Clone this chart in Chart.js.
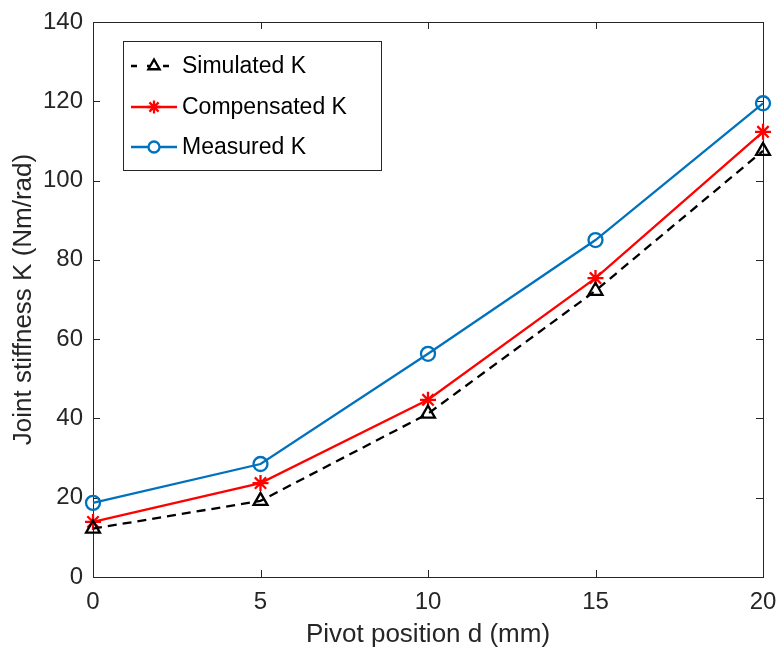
<!DOCTYPE html>
<html>
<head>
<meta charset="utf-8">
<script src="https://cdn.jsdelivr.net/npm/chart.js@4"></script>
<style>
  html, body { margin: 0; padding: 0; background: #fff; }
  #wrap { width: 779px; height: 650px; }
</style>
</head>
<body>
<div id="wrap"><canvas id="stiffChart" width="779" height="650"></canvas></div>
<script>
// pivot position d (mm)
var pivotPos = [0, 5, 10, 15, 20];
// joint stiffness K (Nm/rad)
var simulatedK = [12.2, 19.2, 41.2, 72.2, 107.5];
var compensatedK = [13.9, 23.7, 44.7, 75.4, 112.3];
var measuredK = [18.7, 28.5, 56.3, 85.0, 119.5];
var xTicks = [0, 5, 10, 15, 20];
var yTicks = [0, 20, 40, 60, 80, 100, 120, 140];

var AXIS = '#262626';
var FONT = '"Liberation Sans", Arial, Helvetica, sans-serif';

function pts(vals) {
  return pivotPos.map(function (d, i) { return { x: d, y: vals[i] }; });
}

var series = [
  { label: 'Simulated K', data: simulatedK, color: '#000000', style: 'triangle', radius: 8, dash: [9, 6] },
  { label: 'Compensated K', data: compensatedK, color: '#FF0000', style: 'star', radius: 8, dash: [] },
  { label: 'Measured K', data: measuredK, color: '#0072BD', style: 'circle', radius: 7, dash: [] }
];

// MATLAB-like box with inward ticks, plus boxed legend
var boxPlugin = {
  id: 'boxAxes',
  beforeDatasetsDraw: function (chart) {
    var ctx = chart.ctx, a = chart.chartArea;
    var xs = chart.scales.x, ys = chart.scales.y;
    ctx.save();
    ctx.strokeStyle = AXIS;
    ctx.lineWidth = 1;
    ctx.strokeRect(Math.round(a.left) + 0.5, Math.round(a.top) + 0.5,
      Math.round(a.right - a.left), Math.round(a.bottom - a.top));
    ctx.beginPath();
    var tl = 7;
    xTicks.forEach(function (v) {
      var px = Math.round(xs.getPixelForValue(v)) + 0.5;
      ctx.moveTo(px, a.bottom); ctx.lineTo(px, a.bottom - tl);
      ctx.moveTo(px, a.top); ctx.lineTo(px, a.top + tl);
    });
    yTicks.forEach(function (v) {
      var py = Math.round(ys.getPixelForValue(v)) + 0.5;
      ctx.moveTo(a.left, py); ctx.lineTo(a.left + tl, py);
      ctx.moveTo(a.right, py); ctx.lineTo(a.right - tl, py);
    });
    ctx.stroke();
    ctx.restore();
  },
  afterDraw: function (chart) {
    var ctx = chart.ctx;
    var bx = 123, by = 41, bw = 258, bh = 129;
    ctx.save();
    ctx.fillStyle = '#ffffff';
    ctx.fillRect(bx, by, bw, bh);
    ctx.strokeStyle = '#262626';
    ctx.lineWidth = 1;
    ctx.strokeRect(bx + 0.5, by + 0.5, bw, bh);
    var rows = [66, 107, 147];
    series.forEach(function (s, i) {
      var y = rows[i];
      ctx.strokeStyle = s.color;
      ctx.lineWidth = 2.3;
      ctx.setLineDash(s.dash.length ? [6, 10] : []);
      ctx.beginPath();
      ctx.moveTo(131, y); ctx.lineTo(177, y);
      ctx.stroke();
      ctx.setLineDash([]);
      ctx.fillStyle = '#ffffff';
      Chart.helpers.drawPoint(ctx, {
        pointStyle: s.style, radius: s.radius - 1.5, borderWidth: 2.3
      }, 154, y);
      ctx.fillStyle = '#000';
      ctx.font = '23px ' + FONT;
      ctx.textBaseline = 'middle';
      ctx.textAlign = 'left';
      ctx.fillText(s.label, 182, y + 1);
    });
    ctx.restore();
  }
};

new Chart(document.getElementById('stiffChart'), {
  type: 'line',
  data: {
    datasets: series.map(function (s) {
      return {
        label: s.label,
        data: pts(s.data),
        borderColor: s.color,
        backgroundColor: '#ffffff',
        borderWidth: 2.3,
        borderDash: s.dash,
        pointStyle: s.style,
        pointRadius: s.radius,
        pointBorderWidth: 2.3,
        pointBackgroundColor: 'rgba(255,255,255,0)',
        pointBorderColor: s.color,
        tension: 0,
        clip: false
      };
    })
  },
  options: {
    responsive: false,
    animation: false,
    layout: { padding: { top: 22, right: 16, left: 0, bottom: 0 } },
    plugins: { legend: { display: false }, tooltip: { enabled: false } },
    scales: {
      x: {
        type: 'linear',
        min: 0, max: 20,
        afterBuildTicks: function (sc) { sc.ticks = xTicks.map(function (v) { return { value: v }; }); },
        afterFit: function (sc) { sc.height = 73; sc.paddingLeft = 0; sc.paddingRight = 0; },
        grid: { display: false, drawTicks: false },
        border: { display: false },
        ticks: { color: AXIS, font: { family: FONT, size: 24 }, padding: 11, maxRotation: 0 },
        title: {
          display: true, text: 'Pivot position d (mm)', color: AXIS,
          font: { family: FONT, size: 26 }, padding: { top: 0, bottom: 0 }
        }
      },
      y: {
        min: 0, max: 140,
        afterBuildTicks: function (sc) { sc.ticks = yTicks.map(function (v) { return { value: v }; }); },
        afterFit: function (sc) { sc.width = 93; sc.paddingTop = 0; sc.paddingBottom = 0; },
        grid: { display: false, drawTicks: false },
        border: { display: false },
        ticks: { color: AXIS, font: { family: FONT, size: 24 }, padding: 10 },
        title: {
          display: true, text: 'Joint stiffness K (Nm/rad)', color: AXIS,
          font: { family: FONT, size: 26 }, padding: { top: 8, bottom: 0 }
        }
      }
    }
  },
  plugins: [boxPlugin]
});
</script>
</body>
</html>
